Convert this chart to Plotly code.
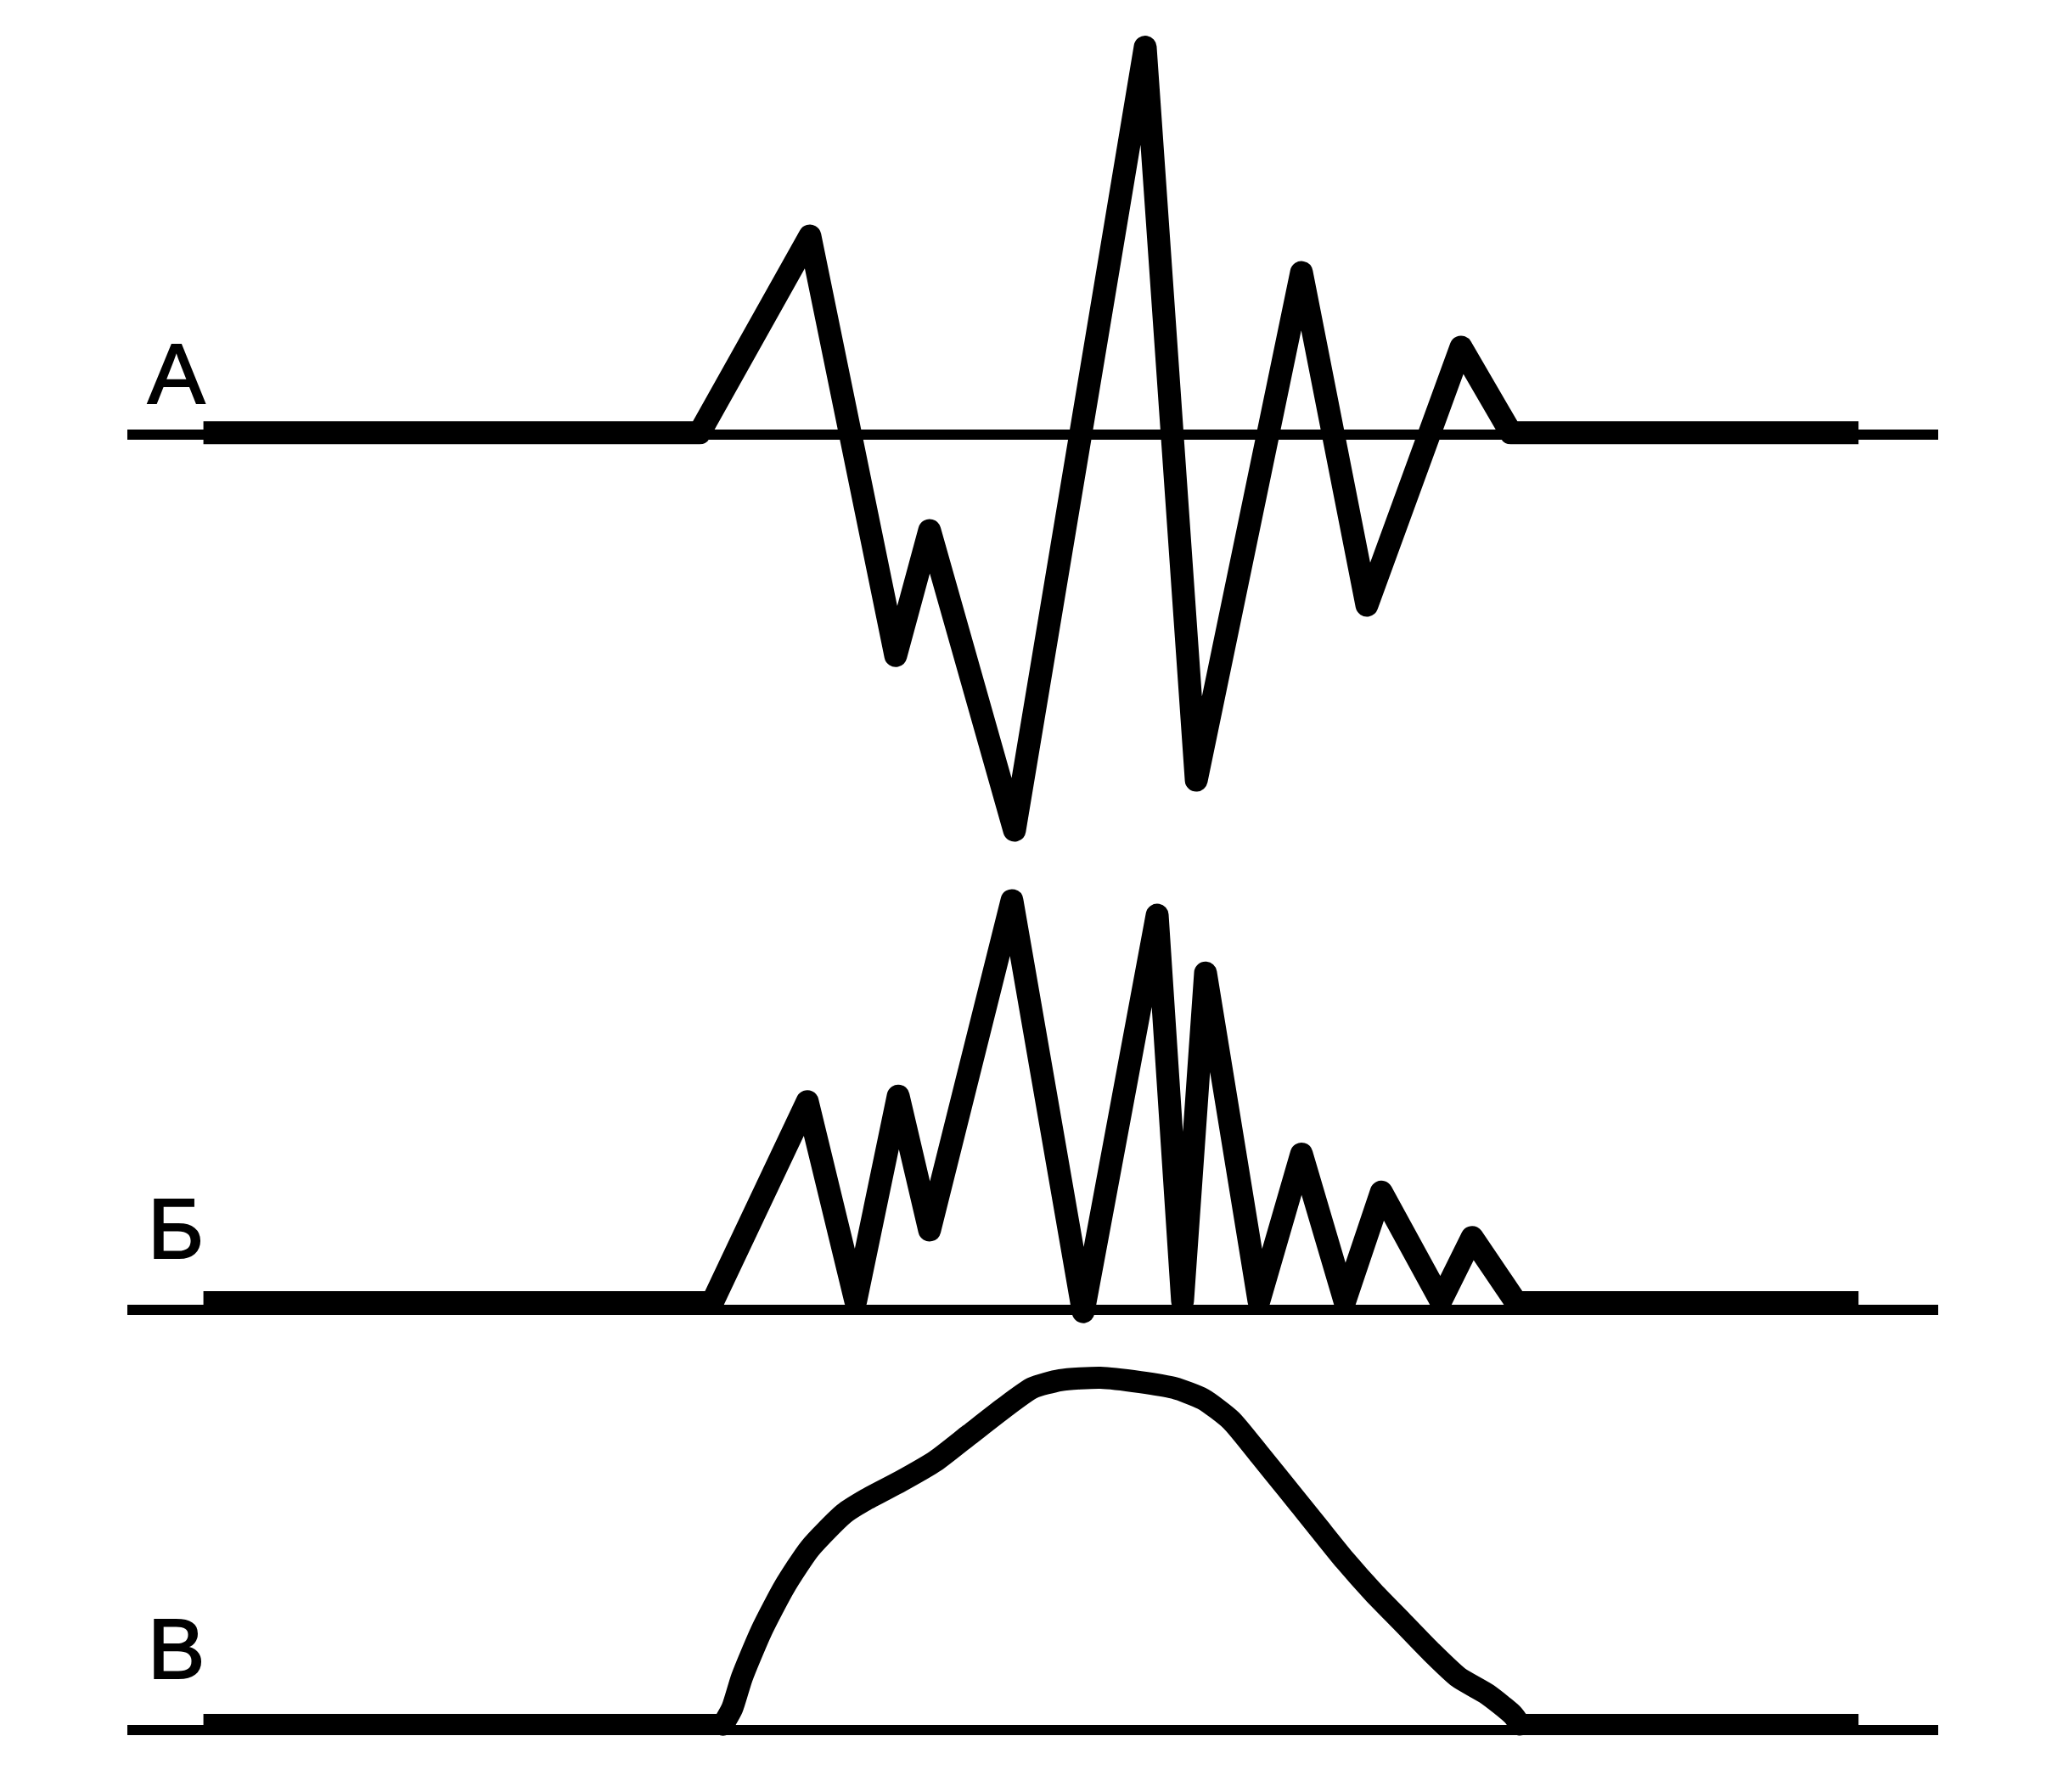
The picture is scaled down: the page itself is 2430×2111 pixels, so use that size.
import plotly.graph_objects as go

# ---- data (time in arbitrary units, amplitude in arbitrary units) ----
labels = ["А", "Б", "В"]

# resting (thick) segments before / after the burst, same for all tracks
rest_start, rest_end = 4.2, 95.6

t_A = [31.6, 37.69, 42.43, 44.30, 48.99, 56.21, 59.03, 64.84, 68.45, 73.65, 76.4]
amp_A = [0.1, 10.97, -12.2, -5.30, -21.85, 21.4, -19.08, 8.95, -9.42, 4.83, 0.1]

t_B = [32.3, 37.55, 40.22, 42.57, 44.30, 48.85, 52.79, 56.87, 58.27, 59.54, 62.49,
       64.84, 67.23, 69.25, 72.53, 74.26, 76.7]
amp_B = [0.4, 11.5, 0.5, 11.8, 4.41, 22.6, -0.1, 21.8, 0.5, 18.6, 0.5,
         8.6, 0.5, 6.5, 0.5, 4.0, 0.4]

t_V = [32.9, 33.4, 33.94, 35.02, 36.29, 37.69, 39.57, 40.83, 42.71, 44.63, 46.51,
       48.38, 49.98, 51.52, 53.73, 55.93, 57.81, 59.40, 60.95, 62.54, 64.09, 65.68, 67.23,
       68.82, 70.37, 71.96, 73.51, 75.11, 76.51, 76.9]
amp_V = [0.3, 1.2, 2.91, 5.49, 7.92, 10.03, 11.95, 12.75, 13.74, 14.86, 16.32,
         17.77, 18.89, 19.32, 19.46, 19.22, 18.89, 18.28, 17.11, 15.19, 13.27, 11.30, 9.38,
         7.59, 6.00, 4.36, 2.91, 1.97, 0.84, 0.3]

rest_amp = [0.1, 0.4, 0.3]   # level of the resting segments (A, Б, В)

axis_t = [0, 100]
axis_amp = [0, 0]

# ---- layout geometry ----
W, H = 2430, 2111
S = 21.33            # pixels per unit (both axes)
X0 = 150             # pixel position of t = 0
# (top px, bottom px, baseline px, label centre px)
tracks = [(0, 1020, 512, 440), (1020, 1600, 1543, 1447), (1600, 2111, 2038, 1942)]
series = [(t_A, amp_A, "linear"), (t_B, amp_B, "linear"), (t_V, amp_V, "spline")]

fig = go.Figure()
layout = dict(
    width=W, height=H, autosize=False,
    margin=dict(l=0, r=0, t=0, b=0, pad=0),
    paper_bgcolor="white", plot_bgcolor="rgba(0,0,0,0)",
    showlegend=False,
    xaxis=dict(range=[-X0 / S, (W - X0) / S], visible=False, fixedrange=True),
)
annotations = []
for i, ((top, bot, base, lab_y), (tt, aa, shape)) in enumerate(zip(tracks, series)):
    yname = "y" if i == 0 else f"y{i+1}"
    ykey = "yaxis" if i == 0 else f"yaxis{i+1}"
    layout[ykey] = dict(
        domain=[1 - bot / H, 1 - top / H],
        range=[(base - bot) / S, (base - top) / S],
        visible=False, fixedrange=True,
    )
    # thin isoline
    fig.add_trace(go.Scatter(x=axis_t, y=axis_amp, yaxis=yname, mode="lines",
                             line=dict(color="black", width=12), hoverinfo="skip"))
    if shape == "linear":
        # resting segments + burst as one polyline
        fig.add_trace(go.Scatter(x=[rest_start] + tt + [rest_end],
                                 y=[rest_amp[i]] + aa + [rest_amp[i]],
                                 yaxis=yname, mode="lines",
                                 line=dict(color="black", width=27), hoverinfo="skip"))
    else:
        fig.add_trace(go.Scatter(x=[rest_start, tt[0], None, tt[-1], rest_end],
                                 y=[rest_amp[i], aa[0], None, aa[-1], rest_amp[i]],
                                 yaxis=yname, mode="lines", connectgaps=False,
                                 line=dict(color="black", width=25), hoverinfo="skip"))
        fig.add_trace(go.Scatter(x=tt, y=aa, yaxis=yname, mode="lines", uid="envcurve",
                                 line=dict(color="black", width=26, shape="spline",
                                           smoothing=0.6),
                                 hoverinfo="skip"))
    annotations.append(dict(
        text=labels[i], xref="paper", yref="paper",
        x=172 / W, y=1 - lab_y / H, xanchor="left", yanchor="middle",
        showarrow=False, font=dict(family="Liberation Sans", size=101, color="black"),
    ))
layout["annotations"] = annotations
fig.update_layout(**layout)

fig.write_html(
    "out.html", config={"displayModeBar": False, "staticPlot": True},
    post_script=(
        "document.body.style.margin='0';document.body.style.overflow='hidden';"
        "document.querySelectorAll('.scatterlayer path.js-line').forEach(function(p){"
        "p.style.strokeLinejoin='round';});"
        "document.querySelectorAll('.traceenvcurve path.js-line').forEach(function(p){"
        "p.style.strokeLinecap='round';});"
        "document.querySelectorAll('.annotation-text').forEach(function(t){"
        "t.style.stroke='black';t.style.strokeWidth='2px';});"
    ),
)
